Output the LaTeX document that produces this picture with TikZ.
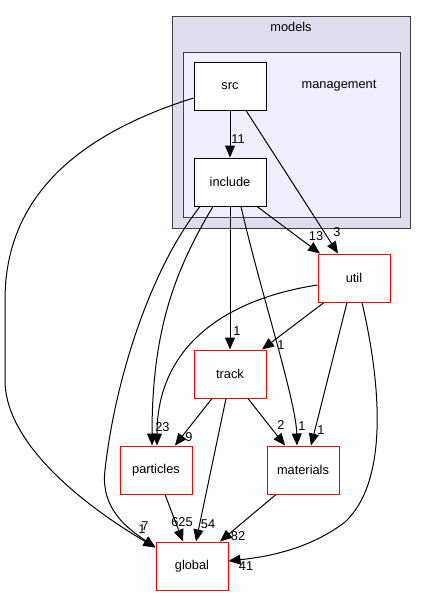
\documentclass[tikz,border=0pt]{standalone}
\usepackage{fontspec}
\setmainfont{Liberation Sans}
\usepackage[usenames,dvipsnames]{xcolor}
\usetikzlibrary{arrows.meta}
\definecolor{OuterFill}{HTML}{DDDDEE}
\definecolor{InnerFill}{HTML}{EEEEFF}
\definecolor{FrameLine}{HTML}{404040}
\tikzset{
  DirStyle/.style = {draw, fill=white, line width=0.75pt, minimum width=54pt,
                     minimum height=36pt, inner sep=0pt,
                     font=\fontsize{9.6}{11}\selectfont},
  RedStyle/.style = {DirStyle, draw=red},
  FrameStyle/.style = {draw=FrameLine, line width=0.75pt, inner sep=0pt},
  EdgeStyle/.style = {line width=0.75pt, -{Triangle[length=9pt,width=7.5pt]}},
  LabelStyle/.style = {inner sep=0pt, font=\fontsize{9.6}{11}\selectfont}
}
\begin{document}
\begin{tikzpicture}[x=0.75pt,y=-0.75pt]
   \useasboundingbox (0,0) rectangle (427,596);
   \node[FrameStyle, fill=OuterFill, minimum width=178.5pt, minimum height=159pt] (models) at (291,122) {};
   \node[FrameStyle, fill=InnerFill, minimum width=162.75pt, minimum height=123.75pt] (management) at (291.5,134.5) {};
   \node[LabelStyle] (modelsname) at (291,27) {models};
   \node[LabelStyle] (managementname) at (339,86) {management};
   \node[DirStyle] (src) at (230,86) {src};
   \node[DirStyle] (include) at (230,182) {include};
   \node[RedStyle] (util) at (354,278) {util};
   \node[RedStyle] (track) at (230,374) {track};
   \node[RedStyle] (particles) at (156,470) {particles};
   \node[RedStyle] (materials) at (303,470) {materials};
   \node[RedStyle] (global) at (192,566) {global};
   \draw[EdgeStyle] (src) -- (include) node[LabelStyle] at (238,139) {11};
   \draw[EdgeStyle] ([xshift=12pt]src.south) -- ([xshift=-12pt]util.north) node[LabelStyle] at (337,232) {3};
   \draw[EdgeStyle] ([yshift=-9pt]src.west) .. controls (60,140) and (5,210) .. (5,300) -- (5,380)
      .. controls (5,450) and (100,515) .. ([yshift=-4.5pt]global.north west) node[LabelStyle] at (142,529) {1};
   \draw[EdgeStyle] ([xshift=-22.5pt]include.south) .. controls (150,270) and (115,380) .. (105,470)
      .. controls (100,510) and (130,530) .. ([yshift=-4.5pt]global.north west) node[LabelStyle] at (145,526) {7};
   \draw[EdgeStyle] ([xshift=20.25pt]include.south) -- ([xshift=-25.5pt]util.north) node[LabelStyle] at (316,236) {13};
   \draw[EdgeStyle] (include) -- (track) node[LabelStyle] at (237,331) {1};
   \draw[EdgeStyle] ([xshift=8.25pt]include.south) .. controls (260,290) and (296,400) .. ([xshift=-4.5pt]materials.north) node[LabelStyle] at (302,426) {1};
   \draw[EdgeStyle] ([xshift=-12.75pt]include.south) .. controls (175,270) and (152,330) .. ([xshift=-3pt]particles.north) node[LabelStyle] at (159,427) {2};
   \draw[EdgeStyle] ([xshift=-22.5pt]util.south) -- ([xshift=24pt]track.north) node[LabelStyle] at (281,345) {1};
   \draw[EdgeStyle] ([yshift=-5.25pt]util.west) .. controls (220,300) and (157,350) .. ([xshift=0.75pt]particles.north) node[LabelStyle] at (166,427) {3};
   \draw[EdgeStyle] ([xshift=-5.25pt]util.south) -- ([xshift=6pt]materials.north) node[LabelStyle] at (321,430) {1};
   \draw[EdgeStyle] ([xshift=6pt]util.south) .. controls (380,380) and (390,480) .. (345,522)
      .. controls (305,553) and (255,558) .. ([yshift=3.75pt]global.east) node[LabelStyle] at (246,566) {41};
   \draw[EdgeStyle] ([xshift=-13.5pt]track.south) -- ([xshift=14.25pt]particles.north) node[LabelStyle] at (189,437) {9};
   \draw[EdgeStyle] ([xshift=13.5pt]track.south) -- ([xshift=-13.5pt]materials.north) node[LabelStyle] at (281,425) {2};
   \draw[EdgeStyle] ([xshift=-3pt]track.south) -- ([xshift=3pt]global.north) node[LabelStyle] at (208,524) {54};
   \draw[EdgeStyle] ([xshift=6.75pt]particles.south) -- ([xshift=-6.75pt]global.north) node[LabelStyle] at (182,522) {625};
   \draw[EdgeStyle] ([xshift=-20.25pt]materials.south) -- ([xshift=21pt]global.north) node[LabelStyle] at (238,536) {82};
\end{tikzpicture}
\end{document}
